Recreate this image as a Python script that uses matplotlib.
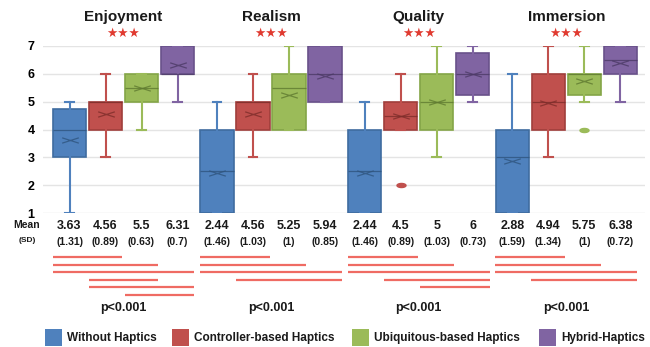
import matplotlib
matplotlib.use("Agg")
import matplotlib.pyplot as plt
import matplotlib.transforms as mtransforms
from matplotlib.path import Path
from matplotlib.patches import Rectangle
import numpy as np

plt.rcParams['font.family'] = ['Liberation Sans', 'DejaVu Sans']

# ---------------- data ----------------
metrics = ["Enjoyment", "Realism", "Quality", "Immersion"]
conditions = ["Without Haptics", "Controller-based Haptics",
              "Ubiquitous-based Haptics", "Hybrid-Haptics"]

# box statistics per metric, per condition
q1 = [[3, 4, 5, 6], [1, 4, 4, 5], [1, 4, 4, 5.25], [1, 4, 5.25, 6]]
q3 = [[4.75, 5, 6, 7], [4, 5, 6, 7], [4, 5, 6, 6.75], [4, 6, 6, 7]]
med = [[4, 5, 5.5, 6], [2.5, 5, 5.5, 6], [2.5, 4.5, 5, 6], [3, 5, 6, 6.5]]
whislo = [[1, 3, 4, 5], [1, 3, 4, 5], [1, 4, 3, 5], [1, 3, 5, 5]]
whishi = [[5, 6, 6, 7], [5, 6, 7, 7], [5, 6, 7, 7], [6, 7, 7, 7]]
fliers = [[[], [], [], []], [[], [], [], []], [[], [2], [], []], [[], [], [4], []]]

means = [[3.63, 4.56, 5.5, 6.31], [2.44, 4.56, 5.25, 5.94],
         [2.44, 4.5, 5, 6], [2.88, 4.94, 5.75, 6.38]]
mean_labels = [["3.63", "4.56", "5.5", "6.31"], ["2.44", "4.56", "5.25", "5.94"],
               ["2.44", "4.5", "5", "6"], ["2.88", "4.94", "5.75", "6.38"]]
sd_labels = [["(1.31)", "(0.89)", "(0.63)", "(0.7)"], ["(1.46)", "(1.03)", "(1)", "(0.85)"],
             ["(1.46)", "(0.89)", "(1.03)", "(0.73)"], ["(1.59)", "(1.34)", "(1)", "(0.72)"]]

sig_pairs = [[(0, 1), (0, 2), (0, 3), (1, 2), (1, 3), (2, 3)],
             [(0, 1), (0, 2), (0, 3), (1, 3)],
             [(0, 1), (0, 2), (0, 3), (1, 3), (2, 3)],
             [(0, 1), (0, 2), (0, 3), (1, 3)]]
p_labels = ["p<0.001", "p<0.001", "p<0.001", "p<0.001"]
yticks = [1, 2, 3, 4, 5, 6, 7]

# ---------------- style ----------------
fills = ["#4F81BD", "#C0504D", "#9BBB59", "#8064A2"]
edges = ["#3F6C9F", "#A03E3B", "#84A547", "#69518A"]
dark = ["#2F557F", "#7E2D2A", "#5F7A30", "#4C3A66"]
sig_color = "#EF6B63"
star_color = "#E03A30"

fig = plt.figure(figsize=(6.5, 3.47), dpi=100)
W, H = 650, 347
ax = fig.add_axes([43 / W, 1 - 213 / H, (645 - 43) / W, (213 - 46) / H])

unit = 36.0
x0_px = 69.5
ax.set_xlim((43 - x0_px) / unit, (645 - x0_px) / unit)
ax.set_ylim(1, 7)

mean_marker = Path([(-1, -0.32), (1, 0.32), (-1, 0.32), (1, -0.32)],
                   [Path.MOVETO, Path.LINETO, Path.MOVETO, Path.LINETO])
th = np.linspace(0, 2 * np.pi, 30)
ell = Path(np.column_stack([np.cos(th), 0.45 * np.sin(th)]), closed=True)

positions = []
for g in range(4):
    positions.append([g * 4.1 + i for i in range(4)])

for g in range(4):
    for i in range(4):
        st = dict(q1=q1[g][i], q3=q3[g][i], med=med[g][i], whislo=whislo[g][i],
                  whishi=whishi[g][i], fliers=fliers[g][i], mean=means[g][i])
        ax.bxp([st], positions=[positions[g][i]], widths=0.93, patch_artist=True,
               showmeans=True, meanline=False, capwidths=0.24,
               boxprops=dict(facecolor=fills[i], edgecolor=edges[i], linewidth=1.2),
               whiskerprops=dict(color=fills[i], linewidth=1.5),
               capprops=dict(color=fills[i], linewidth=1.5),
               medianprops=dict(color=dark[i], linewidth=0.9, alpha=0.8),
               meanprops=dict(marker=mean_marker, markersize=12, markeredgecolor=dark[i],
                              markerfacecolor='none', markeredgewidth=0.9, alpha=0.8),
               flierprops=dict(marker=ell, markersize=6.5, markerfacecolor=fills[i],
                               markeredgecolor=fills[i]),
               manage_ticks=False, zorder=3)

ax.set_yticks(yticks)
ax.set_yticklabels([str(t) for t in yticks], fontsize=9, fontweight='bold')
ax.tick_params(axis='y', length=0, pad=6)
ax.set_xticks([])
for s in ax.spines.values():
    s.set_visible(False)
ax.yaxis.grid(True, color="#E4E4E4", linewidth=1.0, zorder=0)
ax.set_axisbelow(True)

trans = mtransforms.blended_transform_factory(ax.transData, fig.transFigure)

def fy(px):
    return 1 - px / H

for g in range(4):
    cx = (positions[g][0] + positions[g][3]) / 2
    ax.text(cx, fy(17), metrics[g], transform=trans, ha='center', va='center',
            fontsize=11, fontweight='bold', color='#1a1a1a')
    ax.text(cx, fy(33), "★★★", transform=trans, ha='center', va='center',
            fontsize=9, color=star_color, family=['DejaVu Sans'])
    for i in range(4):
        ax.text(positions[g][i], fy(226), mean_labels[g][i], transform=trans,
                ha='center', va='center', fontsize=9, fontweight='bold', color='#1a1a1a')
        ax.text(positions[g][i], fy(242), sd_labels[g][i], transform=trans,
                ha='center', va='center', fontsize=7.5, fontweight='bold', color='#1a1a1a')
    for r, (a, b) in enumerate(sig_pairs[g]):
        yy = fy(257 + 7.5 * r)
        ax.plot([positions[g][a] - 0.47, positions[g][b] + 0.47], [yy, yy],
                transform=trans, color=sig_color, linewidth=1.6, clip_on=False,
                solid_capstyle='butt')
    ax.text(cx, fy(308), p_labels[g], transform=trans, ha='center', va='center',
            fontsize=9, fontweight='bold', color='#1a1a1a')

fig.text(27 / W, fy(225), "Mean", ha='center', va='center', fontsize=7.5,
         fontweight='bold', color='#1a1a1a')
fig.text(27 / W, fy(240), "(SD)", ha='center', va='center', fontsize=6,
         fontweight='bold', color='#1a1a1a')

leg_x = [45, 172, 352, 539]
for i in range(4):
    fig.patches.append(Rectangle((leg_x[i] / W, fy(346)), 17 / W, 17 / H,
                                 transform=fig.transFigure, facecolor=fills[i],
                                 edgecolor='none'))
    fig.text((leg_x[i] + 22) / W, fy(338), conditions[i], ha='left', va='center',
             fontsize=8.5, fontweight='bold', color='#1a1a1a')

fig.savefig("out.png", dpi=100)
